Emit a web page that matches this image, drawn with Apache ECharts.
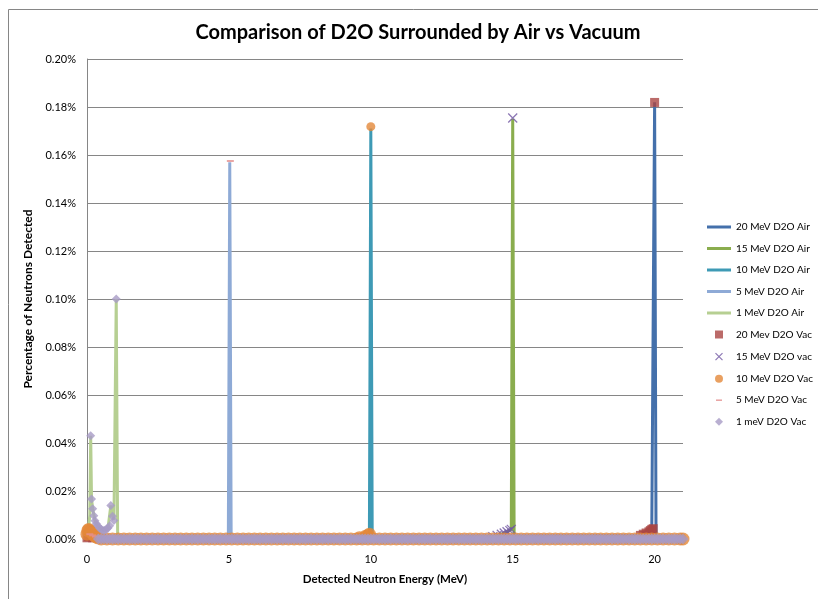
<!DOCTYPE html>
<html><head><meta charset="utf-8">
<script src="https://cdn.jsdelivr.net/npm/echarts@6/dist/echarts.min.js"></script>
<style>html,body{margin:0;padding:0;background:#fff}#c{width:818px;height:599px}</style>
</head><body><div id="c"></div>
<script>
// ---------- DATA (energy in MeV, value in % of neutrons detected) ----------
const seriesNames = ['20 MeV D2O Air','15 MeV D2O Air','10 MeV D2O Air','5 MeV D2O Air','1 MeV D2O Air',
  '20 Mev D2O Vac','15 MeV D2O vac','10 MeV D2O Vac','5 MeV D2O Vac','1 meV D2O Vac'];
const xTickLabels = ['0','5','10','15','20'];

const air20Energy = [0, 19.5, 19.6, 19.7, 19.8, 19.9, 19.95, 20.0, 20.05, 21.0];
const air20Pct    = [0, 0.0015, 0.002, 0.0025, 0.003, 0.004, 0.0043, 0.182, 0, 0];
const air15Energy = [0, 14.3, 14.6, 14.8, 14.95, 15.0, 15.05, 21.0];
const air15Pct    = [0, 0.001, 0.002, 0.003, 0.004, 0.175, 0, 0];
const air10Energy = [0, 9.6, 9.8, 9.95, 10.0, 10.05, 21.0];
const air10Pct    = [0, 0.0005, 0.001, 0.002, 0.171, 0, 0];
const air5Energy  = [0, 4.98, 5.03, 5.08, 21.0];
const air5Pct     = [0, 0.0005, 0.157, 0, 0];
const air1Energy  = [0, 0.05, 0.1, 0.13, 0.16, 0.2, 0.28, 0.38, 0.5, 0.62, 0.74, 0.84, 0.9, 0.95, 1.03, 1.08, 1.2, 21.0];
const air1Pct     = [0.002, 0.004, 0.01, 0.043, 0.0167, 0.0126, 0.0076, 0.0055, 0.004, 0.0036, 0.0046, 0.014, 0.0095, 0.008, 0.100, 0.002, 0, 0];

const vac20Energy = [0.0, 0.05, 0.1, 0.15, 0.2, 19.5, 19.6, 19.7, 19.8, 19.85, 19.9, 19.95, 20.0];
const vac20Pct    = [0.0005, 0.001, 0.001, 0.001, 0.0005, 0.0015, 0.002, 0.0025, 0.003, 0.0035, 0.004, 0.0043, 0.1819];
const vac15Energy = [14.3, 14.45, 14.6, 14.7, 14.8, 14.9, 14.95, 15.0];
const vac15Pct    = [0.001, 0.0015, 0.002, 0.0025, 0.003, 0.0035, 0.004, 0.1754];
const vac10PeakEnergy = [0.0, 0.03, 0.06, 0.1, 0.14, 0.18, 0.24, 0.3, 0.38, 9.6, 9.8, 9.9, 9.95, 10.0];
const vac10PeakPct    = [0.002, 0.0035, 0.004, 0.0035, 0.003, 0.0025, 0.0015, 0.001, 0.0005, 0.0005, 0.001, 0.0015, 0.002, 0.1718];
const vac10BaseEnergy = [0.5,0.7,0.9,
  1.1,1.3,1.5,1.7,1.9, 2.1,2.3,2.5,2.7,2.9, 3.1,3.3,3.5,3.7,3.9, 4.1,4.3,4.5,4.7,4.9,
  5.1,5.3,5.5,5.7,5.9, 6.1,6.3,6.5,6.7,6.9, 7.1,7.3,7.5,7.7,7.9, 8.1,8.3,8.5,8.7,8.9,
  9.1,9.3,9.5,9.7,9.9, 10.1,10.3,10.5,10.7,10.9, 11.1,11.3,11.5,11.7,11.9, 12.1,12.3,12.5,12.7,12.9,
  13.1,13.3,13.5,13.7,13.9, 14.1,14.3,14.5,14.7,14.9, 15.1,15.3,15.5,15.7,15.9, 16.1,16.3,16.5,16.7,16.9,
  17.1,17.3,17.5,17.7,17.9, 18.1,18.3,18.5,18.7,18.9, 19.1,19.3,19.5,19.7,19.9, 20.1,20.3,20.5,20.7,20.9,
  21.0];
const vac10BasePct = [0,0,0,
  0,0,0,0,0, 0,0,0,0,0, 0,0,0,0,0, 0,0,0,0,0,
  0,0,0,0,0, 0,0,0,0,0, 0,0,0,0,0, 0,0,0,0,0,
  0,0,0,0,0, 0,0,0,0,0, 0,0,0,0,0, 0,0,0,0,0,
  0,0,0,0,0, 0,0,0,0,0, 0,0,0,0,0, 0,0,0,0,0,
  0,0,0,0,0, 0,0,0,0,0, 0,0,0,0,0, 0,0,0,0,0,
  0];
const vac5Energy = [0.1, 0.2, 0.3, 0.5, 0.7, 0.9, 1.1, 4.95, 5.05];
const vac5Pct    = [0.002, 0.0015, 0.001, 0.001, 0.001, 0.001, 0.0005, 0.0005, 0.1575];
const vac1PeakEnergy = [0.13, 0.16, 0.2, 0.24, 0.28, 0.33, 0.38, 0.44, 0.5, 0.56, 0.62, 0.68, 0.74, 0.8, 0.84, 0.9, 0.95, 1.03];
const vac1PeakPct    = [0.043, 0.0167, 0.0126, 0.0097, 0.0076, 0.0064, 0.0055, 0.0046, 0.004, 0.0036, 0.0036, 0.004, 0.0046, 0.0055, 0.014, 0.0095, 0.0077, 0.100];
const vac1BaseEnergy = [0.4,0.5,0.6,0.7,0.8,0.9,1.0,
  1.1,1.2,1.3,1.4,1.5,1.6,1.7,1.8,1.9,2.0,
  2.1,2.2,2.3,2.4,2.5,2.6,2.7,2.8,2.9,3.0,
  3.1,3.2,3.3,3.4,3.5,3.6,3.7,3.8,3.9,4.0,
  4.1,4.2,4.3,4.4,4.5,4.6,4.7,4.8,4.9,5.0,
  5.1,5.2,5.3,5.4,5.5,5.6,5.7,5.8,5.9,6.0,
  6.1,6.2,6.3,6.4,6.5,6.6,6.7,6.8,6.9,7.0,
  7.1,7.2,7.3,7.4,7.5,7.6,7.7,7.8,7.9,8.0,
  8.1,8.2,8.3,8.4,8.5,8.6,8.7,8.8,8.9,9.0,
  9.1,9.2,9.3,9.4,9.5,9.6,9.7,9.8,9.9,10.0,
  10.1,10.2,10.3,10.4,10.5,10.6,10.7,10.8,10.9,11.0,
  11.1,11.2,11.3,11.4,11.5,11.6,11.7,11.8,11.9,12.0,
  12.1,12.2,12.3,12.4,12.5,12.6,12.7,12.8,12.9,13.0,
  13.1,13.2,13.3,13.4,13.5,13.6,13.7,13.8,13.9,14.0,
  14.1,14.2,14.3,14.4,14.5,14.6,14.7,14.8,14.9,15.0,
  15.1,15.2,15.3,15.4,15.5,15.6,15.7,15.8,15.9,16.0,
  16.1,16.2,16.3,16.4,16.5,16.6,16.7,16.8,16.9,17.0,
  17.1,17.2,17.3,17.4,17.5,17.6,17.7,17.8,17.9,18.0,
  18.1,18.2,18.3,18.4,18.5,18.6,18.7,18.8,18.9,19.0,
  19.1,19.2,19.3,19.4,19.5,19.6,19.7,19.8,19.9,20.0,
  20.1,20.2,20.3,20.4,20.5,20.6,20.7,20.8,20.9,21.0];
const vac1BasePct = [0,0,0,0,0,0,0,
  0,0,0,0,0,0,0,0,0,0, 0,0,0,0,0,0,0,0,0,0, 0,0,0,0,0,0,0,0,0,0, 0,0,0,0,0,0,0,0,0,0,
  0,0,0,0,0,0,0,0,0,0, 0,0,0,0,0,0,0,0,0,0, 0,0,0,0,0,0,0,0,0,0, 0,0,0,0,0,0,0,0,0,0,
  0,0,0,0,0,0,0,0,0,0, 0,0,0,0,0,0,0,0,0,0, 0,0,0,0,0,0,0,0,0,0, 0,0,0,0,0,0,0,0,0,0,
  0,0,0,0,0,0,0,0,0,0, 0,0,0,0,0,0,0,0,0,0, 0,0,0,0,0,0,0,0,0,0, 0,0,0,0,0,0,0,0,0,0,
  0,0,0,0,0,0,0,0,0,0, 0,0,0,0,0,0,0,0,0,0, 0,0,0,0,0,0,0,0,0,0, 0,0,0,0,0,0,0,0,0,0];

// ---------- STYLE ----------
const colors = ['#4470ab','#8aad4e','#3e9ab5','#8eaad6','#b6cf92','#aa4643','#7156a2','#e3883a','#e4908e','#a79bc5'];
const FONT = 'Lato, "Liberation Sans", sans-serif';

function pairs(xs, ys) { return xs.map((x, i) => [x, ys[i]]); }

const airData = [
  pairs(air20Energy, air20Pct), pairs(air15Energy, air15Pct), pairs(air10Energy, air10Pct),
  pairs(air5Energy, air5Pct), pairs(air1Energy, air1Pct)
];
const series = [];
airData.forEach((d, i) => {
  series.push({
    name: seriesNames[i], type: 'line', z: 2, data: d, symbol: 'none', showSymbol: false,
    lineStyle: { width: 3, color: colors[i] }, itemStyle: { color: colors[i] },
    clip: true, animation: false
  });
});
const nVac10Base = vac10BaseEnergy.length, nVac10Peak = vac10PeakEnergy.length;
const nVac1Base = vac1BaseEnergy.length;
series.push({ name: seriesNames[5], type: 'scatter', z: 2, data: pairs(vac20Energy, vac20Pct),
  symbol: 'rect', symbolSize: 9, itemStyle: { color: colors[5] }, clip: false, animation: false });
series.push({ name: seriesNames[6], type: 'scatter', z: 2, data: pairs(vac15Energy, vac15Pct),
  symbol: 'path://M0,0L10,10M10,0L0,10', symbolSize: 9,
  itemStyle: { color: 'rgba(0,0,0,0)', borderColor: colors[6], borderWidth: 1.3 }, clip: false, animation: false });
series.push({ name: seriesNames[7], type: 'scatter', z: 2,
  data: pairs(vac10BaseEnergy, vac10BasePct).concat(pairs(vac10PeakEnergy, vac10PeakPct)),
  symbol: 'circle',
  symbolSize: (v, p) => (p.dataIndex === nVac10Base + nVac10Peak - 1 ? 9 : 13),
  itemStyle: { color: colors[7] }, clip: false, animation: false });
series.push({ name: seriesNames[8], type: 'scatter', z: 2, data: pairs(vac5Energy, vac5Pct),
  symbol: 'rect', symbolSize: [7, 2], itemStyle: { color: colors[8] }, clip: false, animation: false });
series.push({ name: seriesNames[9], type: 'scatter', z: 2,
  data: pairs(vac1BaseEnergy, vac1BasePct).concat(pairs(vac1PeakEnergy, vac1PeakPct)),
  symbol: 'diamond',
  symbolSize: (v, p) => (p.dataIndex < nVac1Base ? 11 : 9),
  itemStyle: { color: colors[9] }, clip: false, animation: false });

const legendIcons = {
  '20 Mev D2O Vac': 'path://M0,0M10,10M1,1h8v8h-8z',
  '15 MeV D2O vac': 'path://M0,0M10,10M1.5,1.5L8.5,8.5M8.5,1.5L1.5,8.5',
  '10 MeV D2O Vac': 'path://M0,0M10,10M1,5a4,4 0 1,0 8,0a4,4 0 1,0 -8,0z',
  '5 MeV D2O Vac': 'path://M0,0M10,10M2,4.2h6v1.6h-6z',
  '1 meV D2O Vac': 'path://M0,0M10,10M5,1L9,5L5,9L1,5z'
};
const lineIcon = 'path://M0,0M24,10M0,3.5h24v3h-24z';
const legendData = seriesNames.map((n, i) => {
  const item = { name: n, icon: legendIcons[n] || lineIcon, itemStyle: { color: colors[i] } };
  if (i === 6) item.itemStyle = { color: 'rgba(0,0,0,0)', borderColor: colors[6], borderWidth: 1.2 };
  return item;
});

const chart = echarts.init(document.getElementById('c'), null, { renderer: 'canvas' });
chart.setOption({
  animation: false,
  backgroundColor: '#fff',
  color: colors,
  graphic: [
    { type: 'rect', shape: { x: 8.5, y: 9.5, width: 900, height: 700 }, silent: true, z: -10,
      style: { fill: 'none', stroke: '#868686', lineWidth: 1 } },
    { type: 'text', x: 418, y: 33, silent: true,
      style: { text: 'Comparison of D2O Surrounded by Air vs Vacuum', fill: '#000',
        font: 'bold 20px ' + FONT, textAlign: 'center', textVerticalAlign: 'middle' } }
  ],
  grid: { left: 87, right: 135, top: 59, bottom: 60, containLabel: false },
  legend: {
    orient: 'vertical', left: 707, top: 222, padding: 0,
    itemWidth: 24, itemHeight: 10, itemGap: 11.5,
    textStyle: { fontFamily: FONT, fontSize: 10, color: '#000' },
    data: legendData, selectedMode: false
  },
  xAxis: {
    type: 'value', min: 0, max: 21, interval: 5,
    name: 'Detected Neutron Energy (MeV)', nameLocation: 'middle', nameGap: 34,
    nameTextStyle: { fontFamily: FONT, fontSize: 11.5, fontWeight: 'bold', color: '#000' },
    axisLine: { show: true, lineStyle: { color: '#868686' } },
    axisTick: { show: false },
    splitLine: { show: false },
    axisLabel: { fontFamily: FONT, fontSize: 11, color: '#000', margin: 15, showMaxLabel: false,
      formatter: v => xTickLabels.indexOf(String(v)) >= 0 ? String(v) : '' }
  },
  yAxis: {
    type: 'value', min: 0, max: 0.2, interval: 0.02,
    name: 'Percentage of Neutrons Detected', nameLocation: 'middle', nameGap: 48,
    nameTextStyle: { fontFamily: FONT, fontSize: 12, fontWeight: 'bold', color: '#000' },
    axisLine: { show: true, lineStyle: { color: '#868686' } },
    axisTick: { show: false },
    splitLine: { show: true, lineStyle: { color: '#868686', width: 1 } },
    axisLabel: { fontFamily: FONT, fontSize: 11, color: '#000', margin: 11,
      formatter: v => v.toFixed(2) + '%' }
  },
  series: series
});
</script></body></html>
